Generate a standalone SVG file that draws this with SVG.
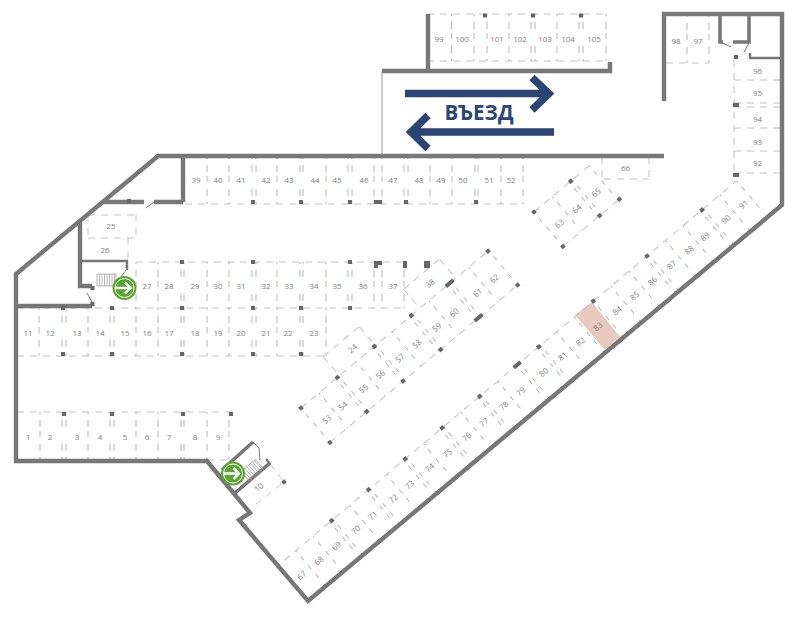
<svg xmlns="http://www.w3.org/2000/svg" xmlns:xlink="http://www.w3.org/1999/xlink" width="800" height="617" viewBox="0 0 800 617">
<style>
text{font-family:"Open Sans","Liberation Sans",sans-serif;font-size:8px;fill:#808080;text-anchor:middle;dominant-baseline:central;opacity:.99}
.w{fill:none;stroke:#777;stroke-width:4.4}
.n{fill:none;stroke:#777;stroke-width:3.600}
.t{fill:none;stroke:#777;stroke-width:2.400}
.d{fill:none;stroke:#777;stroke-width:1}
.h{fill:none;stroke:#c2c2c2;stroke-width:1;stroke-dasharray:7 6}
.v{fill:none;stroke:#b4b4b4;stroke-width:1;stroke-dasharray:2 6 7 4 6 7 7 6 3}
.u{fill:none;stroke:#b4b4b4;stroke-width:1;stroke-dasharray:2 6 7 17 7 6 3}
.r{fill:none;stroke:#b4b4b4;stroke-width:1;stroke-dasharray:2 5.500 5 7 5 6 5 8.500 2}
.a{fill:none;stroke:#2a4475;stroke-width:7.400}
.c{fill:#666}
</style>
<defs>
<rect id="p" x="-2" y="-2" width="4" height="4" class="c"/>
<g id="exit">
<circle r="12" fill="#5ba532"/>
<circle r="9.500" fill="none" stroke="#fff" stroke-width="1"/>
<path d="M-9 0H6M0.500-5.500L6 0L0.500 5.500" fill="none" stroke="#fff" stroke-width="2.500"/>
</g>
<path id="st" d="M0 0H19V12H0ZM2.500 0V12M5 0V12M7.500 0V12M10 0V12M12.500 0V12M15 0V12M17.500 0V12" fill="none" stroke="#999" stroke-width=".7"/>
</defs>

<polygon points="575,315 592,302 620,337 605,350" fill="#e9c9bd"/>

<g id="spaces">
<path class="h" d="M185 204H524M136 262H404M17 308H404M17 356H326M17 412H230M207 460H230M427 61H606M427 14H606M666 63H709M604 179H649M88 215H136M88 238H136"/>
<path class="h" d="M734 80H780M734 103H780M734 107H780M734 128H780M734 151H780M734 173H780"/>
<path class="h" d="M734 60V175M602 157V179M649 157V179M88 215V238M136 215V238M128 238V261M81 238V261"/>
<path class="v" d="M207 157V204M229 157V204M277 157V204M326 157V204M374 157V204M382 157V204M430 157V204M452 157V204M501 157V204M523 157V204"/>
<path class="u" d="M252 157V204M256 157V204M300 157V204M303 157V204M348 157V204M352 157V204M404 157V204M408 157V204M475 157V204M478 157V204"/>
<path class="v" d="M136 262V308M158 262V308M207 262V308M229 262V308M277 262V308M326 262V308M374 262V308M382 262V308M404 262V308"/>
<path class="u" d="M181 262V308M184 262V308M252 262V308M256 262V308M300 262V308M303 262V308M348 262V308M352 262V308"/>
<path class="v" d="M39 308V356M88 308V356M136 308V356M158 308V356M207 308V356M229 308V356M277 308V356M326 308V356"/>
<path class="u" d="M62 308V356M66 308V356M110 308V356M114 308V356M181 308V356M184 308V356M252 308V356M256 308V356M300 308V356M303 308V356"/>
<path class="v" d="M40 412V460M88 412V460M136 412V460M158 412V460M207 412V460M229 412V460"/>
<path class="u" d="M62 412V460M66 412V460M110 412V460M114 412V460M181 412V460M184 412V460"/>
<path class="v" d="M451.500 14V61M474 14V61M487 14V61M509 14V61M557 14V61M606 14V61M687 15V63M709 15V63"/>
<path class="u" d="M531 14V61M535 14V61M579 14V61M583 14V61"/>
<path class="h" d="M270 464L284 482L255 505"/>
</g>

<g id="block-53-62" transform="translate(301 408) rotate(-40)">
<path class="h" d="M0 0H245M0 45H245M50 -25H97M155 -25H202M50 -25V0M97 -25V0M155 -25V0M202 -25V0"/>
<path class="r" d="M0 0V45M23.500 0V45M45.500 0V45M49.500 0V45M72 0V45M94 0V45M98 0V45M119 0V45M142 0V45M146 0V45M167 0V45M192 0V45M196 0V45M219 0V45M245 0V45"/>
<use xlink:href="#p" x="0" y="0"/><use xlink:href="#p" x="47.500" y="0"/><use xlink:href="#p" x="95.800" y="0"/><use xlink:href="#p" x="144" y="0"/><rect x="189" y="-2" width="10" height="4" class="c"/><use xlink:href="#p" x="244" y="0"/>
<use xlink:href="#p" x="0" y="45"/><use xlink:href="#p" x="48" y="45"/><use xlink:href="#p" x="95.500" y="45"/><use xlink:href="#p" x="144.500" y="45"/><rect x="189" y="43" width="10" height="4" class="c"/><use xlink:href="#p" x="245" y="45"/>
<text x="12.600" y="24.700">53</text><text x="33.400" y="24.700">54</text><text x="60.400" y="24.700">55</text><text x="82.400" y="24.700">56</text><text x="107.800" y="24.700">57</text><text x="130" y="24.700">58</text><text x="155.700" y="24.700">59</text><text x="178.600" y="24.700">60</text><text x="209.500" y="24.700">61</text><text x="231.400" y="24.700">62</text>
<text x="77.700" y="-13">24</text><text x="179" y="-13">38</text>
</g>

<g id="block-63-65" transform="translate(534 212) rotate(-40)">
<path class="h" d="M0 0H72M0 45H72"/>
<path class="r" d="M0 0V45M24 0V45M46 0V45M50 0V45M72 0V45"/>
<use xlink:href="#p" x="0" y="0"/><use xlink:href="#p" x="48" y="0"/><use xlink:href="#p" x="0" y="45"/><use xlink:href="#p" x="48" y="45"/><use xlink:href="#p" x="73.600" y="45"/>
<text x="12" y="24.500">63</text><text x="35" y="24.500">64</text><text x="60" y="24.500">65</text>
</g>

<g id="row-67-91" transform="translate(284.700 560) rotate(-40)">
<path class="h" d="M0 0H590"/>
<path class="r" d="M14.500 0V46M37 0V46M59 0V46M63 0V46M85 0V46M107.500 0V46M111.500 0V46M133 0V46M155.300 0V46M159.300 0V46M181 0V46M203.500 0V46M207.500 0V46M230 0V46M252.600 0V46M256.600 0V46M278 0V46M302.700 0V46M306.700 0V46M329.800 0V46M333.800 0V46M355 0V46M378 0V46M402.800 0V46M426 0V46M449.500 0V46M471 0V46M475 0V46M497 0V46M520 0V46M542.700 0V46M546.700 0V46M568 0V46M590 0V40"/>
<use xlink:href="#p" x="61.300" y="0"/><use xlink:href="#p" x="109.500" y="0"/><use xlink:href="#p" x="157.300" y="0"/><use xlink:href="#p" x="205.500" y="0"/><use xlink:href="#p" x="254.600" y="0"/><rect x="299" y="-2" width="9" height="4" class="c"/><use xlink:href="#p" x="331.800" y="0"/><use xlink:href="#p" x="402.800" y="0"/><use xlink:href="#p" x="473" y="0"/><use xlink:href="#p" x="544.700" y="0"/>
<text x="3.100" y="22">67</text><text x="25.700" y="22">68</text><text x="48.500" y="22">69</text><text x="73.800" y="22">70</text><text x="96" y="22">71</text><text x="122.600" y="22">72</text><text x="144" y="22">73</text><text x="170.300" y="22">74</text><text x="193.300" y="22">75</text><text x="218.600" y="22">76</text><text x="241" y="22">77</text><text x="267" y="22">78</text><text x="289" y="22">79</text><text x="319" y="22">80</text><text x="344" y="22">81</text><text x="367" y="22">82</text><text x="390" y="22">83</text><text x="415" y="22">84</text><text x="438" y="22">85</text><text x="461" y="22">86</text><text x="486" y="22">87</text><text x="509" y="22">88</text><text x="530" y="22">89</text><text x="557" y="22">90</text><text x="580" y="22">91</text>
</g>

<g id="walls">
<path d="M382 71V156" fill="none" stroke="#ccc" stroke-width="2"/>
<path class="w" d="M664 156H158L16 274V461H207L250 513L239 520L308 601L782 205V14H664V101"/>
<path class="w" d="M428 14V71M382 71H610V62"/>
<path class="w" d="M183 156V202M102 202H144M154 202H183"/>
<path class="w" d="M80 222V286H92M16 306H92"/>
<path class="n" d="M720 14V42H723M733 42H749V14"/>
<path class="t" d="M80 261H127V270M750 53V58H780"/>
<path class="n" d="M222 470L253 442M235 493L270 463"/>
<path class="d" d="M146 208L154 202M126 270L121 277M87 293L92 302M723 43L731 47M749 43L744 52M253 442L259 448L260 460"/>
<path class="t" d="M266 459L270 464"/>
</g>

<g id="pillars">
<use xlink:href="#p" x="253" y="202"/><use xlink:href="#p" x="301" y="202"/><use xlink:href="#p" x="350" y="202"/><rect x="374" y="200" width="8" height="4" class="c"/><use xlink:href="#p" x="406" y="202"/><use xlink:href="#p" x="476" y="202"/>
<use xlink:href="#p" x="182" y="262"/><use xlink:href="#p" x="253" y="262"/><use xlink:href="#p" x="350" y="262"/>
<path class="c" d="M374 261H382V265H378V268H374ZM403 261H407V268H403ZM424 261H430V268H424Z"/>
<use xlink:href="#p" x="63" y="308"/><use xlink:href="#p" x="112" y="308"/><use xlink:href="#p" x="182" y="308"/><use xlink:href="#p" x="253" y="308"/><use xlink:href="#p" x="301" y="308"/><use xlink:href="#p" x="350" y="308"/>
<use xlink:href="#p" x="63" y="354"/><use xlink:href="#p" x="112" y="354"/><use xlink:href="#p" x="182" y="354"/><use xlink:href="#p" x="253" y="354"/><use xlink:href="#p" x="301" y="354"/>
<use xlink:href="#p" x="64" y="414"/><use xlink:href="#p" x="112" y="414"/><use xlink:href="#p" x="183" y="414"/><use xlink:href="#p" x="231" y="414"/>
<use xlink:href="#p" x="129" y="201"/><use xlink:href="#p" x="92.500" y="288"/><use xlink:href="#p" x="92.500" y="304"/>
<use xlink:href="#p" x="485" y="15.500"/><use xlink:href="#p" x="533" y="15.500"/><use xlink:href="#p" x="581" y="15.500"/>
<use xlink:href="#p" x="736" y="57"/><rect x="733" y="103" width="6" height="4" class="c"/><rect x="733" y="173" width="6" height="4" class="c"/>
<g transform="translate(284 482) rotate(-40)"><use xlink:href="#p"/></g>
</g>

<g id="labels">
<text x="196" y="179">39</text><text x="218" y="179">40</text><text x="241" y="179">41</text><text x="266" y="179">42</text><text x="289" y="179">43</text><text x="315" y="179">44</text><text x="337" y="179">45</text><text x="364" y="179">46</text><text x="393" y="179">47</text><text x="419" y="179">48</text><text x="441" y="179">49</text><text x="463" y="179">50</text><text x="489" y="179">51</text><text x="511" y="179">52</text>
<text x="147" y="285">27</text><text x="169" y="285">28</text><text x="195" y="285">29</text><text x="218" y="285">30</text><text x="241" y="285">31</text><text x="266" y="285">32</text><text x="289" y="285">33</text><text x="314" y="285">34</text><text x="337" y="285">35</text><text x="363" y="285">36</text><text x="393" y="285">37</text>
<text x="28" y="332">11</text><text x="50" y="332">12</text><text x="77" y="332">13</text><text x="100" y="332">14</text><text x="125" y="332">15</text><text x="147" y="332">16</text><text x="169" y="332">17</text><text x="195" y="332">18</text><text x="218" y="332">19</text><text x="241" y="332">20</text><text x="266" y="332">21</text><text x="288" y="332">22</text><text x="314" y="332">23</text>
<text x="28" y="436">1</text><text x="50" y="436">2</text><text x="77" y="436">3</text><text x="100" y="436">4</text><text x="125" y="436">5</text><text x="147" y="436">6</text><text x="169" y="436">7</text><text x="195" y="436">8</text><text x="218" y="436">9</text>
<text x="111" y="225">25</text><text x="105" y="249">26</text>
<text x="258.500" y="487" transform="rotate(-40 258.500 487)">10</text>
<text x="439" y="38">99</text><text x="462" y="38">100</text><text x="497" y="38">101</text><text x="520" y="38">102</text><text x="545" y="38">103</text><text x="568" y="38">104</text><text x="594" y="38">105</text>
<text x="676" y="40">98</text><text x="698" y="40">97</text>
<text x="757.500" y="70">96</text><text x="757.500" y="92">95</text><text x="757.500" y="118.500">94</text><text x="757.500" y="141">93</text><text x="757.500" y="162">92</text>
<text x="625.500" y="167">66</text>
</g>

<g id="stairs">
<use xlink:href="#st" x="97" y="274"/>
<use xlink:href="#st" transform="translate(241 471.500) rotate(-40)"/>
<use xlink:href="#exit" x="124.500" y="288"/>
<use xlink:href="#exit" x="233" y="473.500"/>
</g>

<g id="entry">
<path class="a" d="M405 93.500H550M532 77.500L549 93.500L532 110"/>
<path class="a" d="M554 132H412M428 115.500L411 132L428 148.500"/>
<text x="479" y="112" style="font-size:20.500px;font-weight:700;fill:#2a4475">ВЪЕЗД</text>
</g>
</svg>
